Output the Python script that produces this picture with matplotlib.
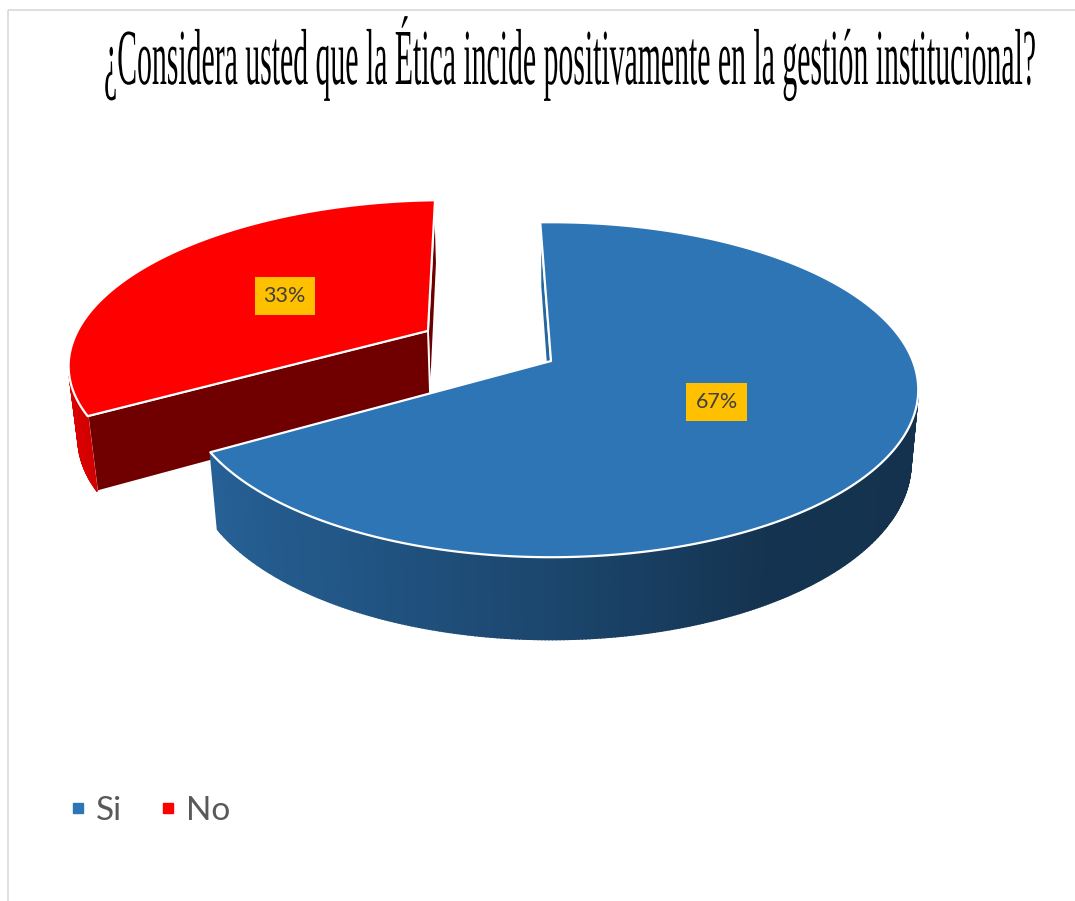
import numpy as np
import matplotlib
matplotlib.use('Agg')
import matplotlib.pyplot as plt
from matplotlib.patches import Polygon, Rectangle
from matplotlib.lines import Line2D
from matplotlib.colors import to_rgb
from matplotlib.patheffects import AbstractPathEffect
from matplotlib.transforms import Affine2D

W, H = 1075, 901

title = '¿Considera usted que la Ética incide positivamente en la gestión institucional?'
categories = ['Si', 'No']
values = [67, 33]
colors = ['#2E75B6', '#FF0000']
explode = [0.0, 0.40]

# 3D pie camera, all in pixel space of the figure
cx, cy = 551, 361
focal = 1885.0
dist = 5.21
elev = np.radians(26.7)
thick = 0.228
start = 92.0          # angle of the first slice edge, slices run clockwise
cam = np.array([0.0, -dist * np.cos(elev), dist * np.sin(elev)])


def project(p):
    x, y, z = p
    depth = dist + y * np.cos(elev) - z * np.sin(elev)
    up = y * np.sin(elev) + z * np.cos(elev)
    return cx + focal * x / depth, cy - focal * up / depth


def depth_of(p):
    return np.linalg.norm(cam - np.asarray(p))


def side_color(base, ang):
    k = np.interp(ang % 360, [0, 90, 150, 200, 240, 270, 300, 360],
                  [0.42, 0.6, 0.9, 0.86, 0.74, 0.6, 0.44, 0.42])
    return tuple(np.array(to_rgb(base)) * k)


class Stretch(AbstractPathEffect):
    """Scale text glyphs about their baseline origin."""
    def __init__(self, sx=1.0, sy=1.0):
        super().__init__()
        self._sx, self._sy = sx, sy

    def draw_path(self, renderer, gc, tpath, affine, rgbFace=None):
        renderer.draw_path(gc, tpath, Affine2D().scale(self._sx, self._sy) + affine, rgbFace)


fig = plt.figure(figsize=(W / 100, H / 100), dpi=100)
fig.patch.set_facecolor('white')
ax = fig.add_axes([0, 0, 1, 1])
ax.set_xlim(0, W)
ax.set_ylim(H, 0)
ax.axis('off')

# chart area border
ax.add_patch(Rectangle((8, 10), W + 20, H + 20, fill=False, ec='#D9D9D9', lw=1.2))

# build slices
slices = []
a0 = start
for cat, v, col, ex in zip(categories, values, colors, explode):
    sweep = 360.0 * v / sum(values)
    lo, hi = a0 - sweep, a0
    mid = np.radians((lo + hi) / 2)
    off = np.array([ex * np.cos(mid), ex * np.sin(mid), 0.0])
    slices.append(dict(cat=cat, v=v, col=col, lo=lo, hi=hi, mid=mid, off=off))
    a0 = lo

# back slices first
slices.sort(key=lambda s: -depth_of(s['off']))

for s in slices:
    off, col = s['off'], s['col']
    angs = np.radians(np.linspace(s['lo'], s['hi'], int(abs(s['hi'] - s['lo'])) * 2 + 2))
    top = [off + np.array([np.cos(a), np.sin(a), 0.0]) for a in angs]
    bot = [p - np.array([0, 0, thick]) for p in top]
    ctop, cbot = off.copy(), off - np.array([0, 0, thick])

    faces = []
    # curved outer wall
    for i in range(len(angs) - 1):
        am = (angs[i] + angs[i + 1]) / 2
        n = np.array([np.cos(am), np.sin(am), 0.0])
        pm = off + n
        if np.dot(cam - pm, n) > 0:
            faces.append((depth_of(pm - [0, 0, thick / 2]), [top[i], top[i + 1], bot[i + 1], bot[i]],
                          side_color(col, np.degrees(am)), False))
    # the two radial cut faces
    for a, sign, e_top, e_bot in [(angs[0], -1, top[0], bot[0]), (angs[-1], 1, top[-1], bot[-1])]:
        n = sign * np.array([-np.sin(a), np.cos(a), 0.0])
        pm = (ctop + e_top) / 2
        if np.dot(cam - pm, n) > 0:
            faces.append((depth_of(pm - [0, 0, thick / 2]), [ctop, e_top, e_bot, cbot],
                          side_color(col, np.degrees(np.arctan2(n[1], n[0]))), True))
    faces.sort(key=lambda f: -f[0])
    for _, pts, fc, outlined in faces:
        xy = [project(p) for p in pts]
        if outlined:
            ax.add_patch(Polygon(xy, closed=True, fc=fc, ec='white', lw=1.3, joinstyle='round'))
        else:
            ax.add_patch(Polygon(xy, closed=True, fc=fc, ec=fc, lw=1.1))

    # top face
    xy = [project(ctop)] + [project(p) for p in top]
    ax.add_patch(Polygon(xy, closed=True, fc=col, ec='white', lw=1.6, joinstyle='round'))

    # data label
    lp = off + 0.5 * np.array([np.cos(s['mid']), np.sin(s['mid']), 0.0])
    lx, ly = project(lp)
    ax.text(lx, ly, f"{s['v']}%", ha='center', va='center', fontsize=15.5,
            family='Lato', color='#404040',
            bbox=dict(boxstyle='square,pad=0.42', fc='#FFC000', ec='none'))

# title: tall condensed serif
t = ax.text(104, 84, title, ha='left', va='baseline', fontsize=20,
            family='Liberation Serif', color='black')
fig.canvas.draw()
wpx = t.get_window_extent(fig.canvas.get_renderer()).width
fs = 20 * 933.0 / wpx
t.set_fontsize(fs)
cap_px = 0.655 * fs * 100 / 72
t.set_path_effects([Stretch(1.0, 52.0 / cap_px)])

# legend
handles = [Line2D([], [], marker='s', ls='', color=c, markersize=7.5) for c in colors]
leg = ax.legend(handles, categories, loc='center left', bbox_to_anchor=(70 / W, 1 - 811 / H),
                ncol=2, frameon=False, borderpad=0, borderaxespad=0,
                handlelength=0.48, handletextpad=0.3, columnspacing=1.15,
                prop={'family': 'Lato', 'size': 24})
for txt in leg.get_texts():
    txt.set_color('#595959')

fig.savefig('out.png', dpi=100, facecolor='white')
